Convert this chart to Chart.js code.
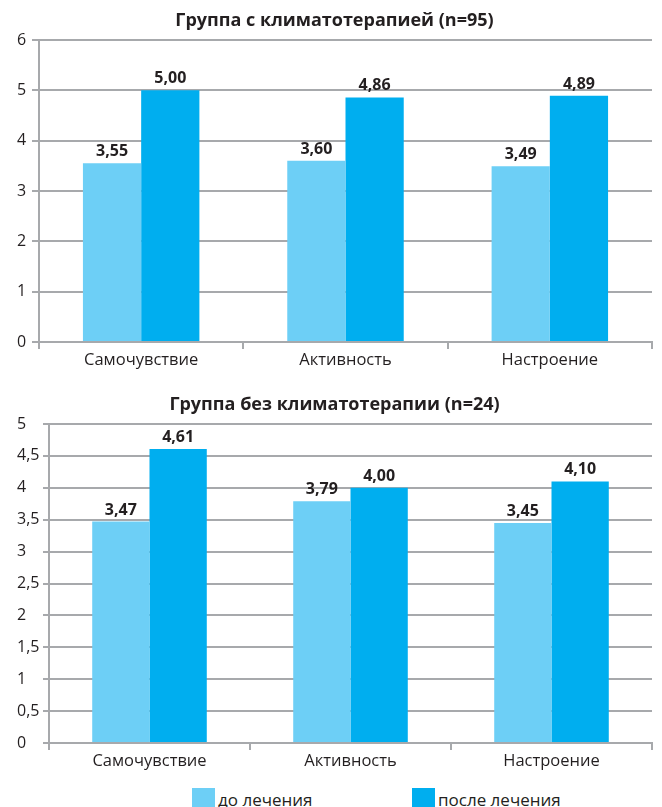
<!DOCTYPE html>
<html><head><meta charset="utf-8">
<script src="https://cdn.jsdelivr.net/npm/chart.js@4"></script>
<style>
html,body{margin:0;padding:0;background:#fff;}
#wrap{position:relative;width:662px;height:807px;overflow:hidden;font-family:"Open Sans",sans-serif;}
canvas{position:absolute;left:0;}
#legend{position:absolute;top:788px;left:0;width:662px;height:23px;}
.li{position:absolute;top:0;height:23px;line-height:23px;font-size:17px;color:#231f20;white-space:nowrap;}
.li i{display:inline-block;width:23px;height:23px;vertical-align:top;margin-right:3px;}
</style></head><body>
<div id="wrap">
<canvas id="c1" width="662" height="372" style="top:0"></canvas>
<canvas id="c2" width="662" height="401" style="top:372px"></canvas>
<div id="legend"></div>
</div>
<script>
// ---- data ----
const categories = ['Самочувствие', 'Активность', 'Настроение'];
const seriesNames = ['до лечения', 'после лечения'];
const seriesColors = ['#6dcff6', '#00aeef'];

const group1Title = 'Группа с климатотерапией (n=95)';
const group1Before = [3.55, 3.60, 3.49];
const group1After = [5.00, 4.86, 4.89];
const group1Ticks = [0, 1, 2, 3, 4, 5, 6];

const group2Title = 'Группа без климатотерапии (n=24)';
const group2Before = [3.47, 3.79, 3.45];
const group2After = [4.61, 4.00, 4.10];
const group2Ticks = [0, 0.5, 1, 1.5, 2, 2.5, 3, 3.5, 4, 4.5, 5];

// ---- helpers ----
const FONT = '"Open Sans", sans-serif';
const TEXT = '#231f20';
const GRID = '#a7a9ac';
const fmt2 = v => v.toFixed(2).replace('.', ',');
const fmtTick = v => String(v).replace('.', ',');

const valueLabels = {
  id: 'valueLabels',
  afterDatasetsDraw(chart) {
    const ctx = chart.ctx;
    ctx.save();
    ctx.font = 'bold 16px ' + FONT;
    ctx.fillStyle = TEXT;
    ctx.textAlign = 'center';
    ctx.textBaseline = 'alphabetic';
    chart.data.datasets.forEach((ds, i) => {
      chart.getDatasetMeta(i).data.forEach((bar, j) => {
        ctx.fillText(fmt2(ds.data[j]), bar.x, bar.y - 7);
      });
    });
    ctx.restore();
  }
};

function makeChart(id, title, before, after, ticks, yWidth, tickLen, titlePad) {
  return new Chart(document.getElementById(id), {
    type: 'bar',
    data: {
      labels: categories,
      datasets: [
        { label: seriesNames[0], data: before, backgroundColor: seriesColors[0] },
        { label: seriesNames[1], data: after, backgroundColor: seriesColors[1] }
      ]
    },
    options: {
      responsive: false,
      animation: false,
      devicePixelRatio: 1,
      datasets: { bar: { barPercentage: 1, categoryPercentage: 0.57 } },
      layout: { padding: { left: 17, right: 10, top: 0, bottom: 0 } },
      plugins: {
        legend: { display: false },
        tooltip: { enabled: false },
        title: {
          display: true, text: title, color: TEXT,
          font: { family: FONT, size: 18, weight: 'bold', lineHeight: 1.2 },
          padding: titlePad
        }
      },
      scales: {
        x: {
          grid: { offset: true, drawOnChartArea: false, drawTicks: true, tickLength: 7, color: GRID, lineWidth: 2 },
          border: { color: GRID, width: 2 },
          ticks: { color: TEXT, font: { family: FONT, size: 16.5 }, padding: 1 },
          afterFit: s => { s.height = 30; }
        },
        y: {
          min: ticks[0], max: ticks[ticks.length - 1],
          afterBuildTicks: s => { s.ticks = ticks.map(v => ({ value: v })); },
          grid: { color: GRID, lineWidth: 2, tickLength: tickLen },
          border: { color: GRID, width: 2 },
          ticks: { color: TEXT, font: { family: FONT, size: 16 }, padding: 3, crossAlign: 'far', callback: v => fmtTick(v) },
          afterFit: s => { s.width = yWidth; }
        }
      }
    },
    plugins: [valueLabels]
  });
}

makeChart('c1', group1Title, group1Before, group1After, group1Ticks, 22, 7, { top: 10, bottom: 8.4 });
makeChart('c2', group2Title, group2Before, group2After, group2Ticks, 32, 6, { top: 22, bottom: 8.4 });

// legend (HTML, from series arrays)
const legendPos = [192, 412];
const lg = document.getElementById('legend');
seriesNames.forEach((n, i) => {
  const d = document.createElement('div');
  d.className = 'li';
  d.style.left = legendPos[i] + 'px';
  const sw = document.createElement('i');
  sw.style.background = seriesColors[i];
  d.appendChild(sw);
  d.appendChild(document.createTextNode(n));
  lg.appendChild(d);
});
</script>
</body></html>
